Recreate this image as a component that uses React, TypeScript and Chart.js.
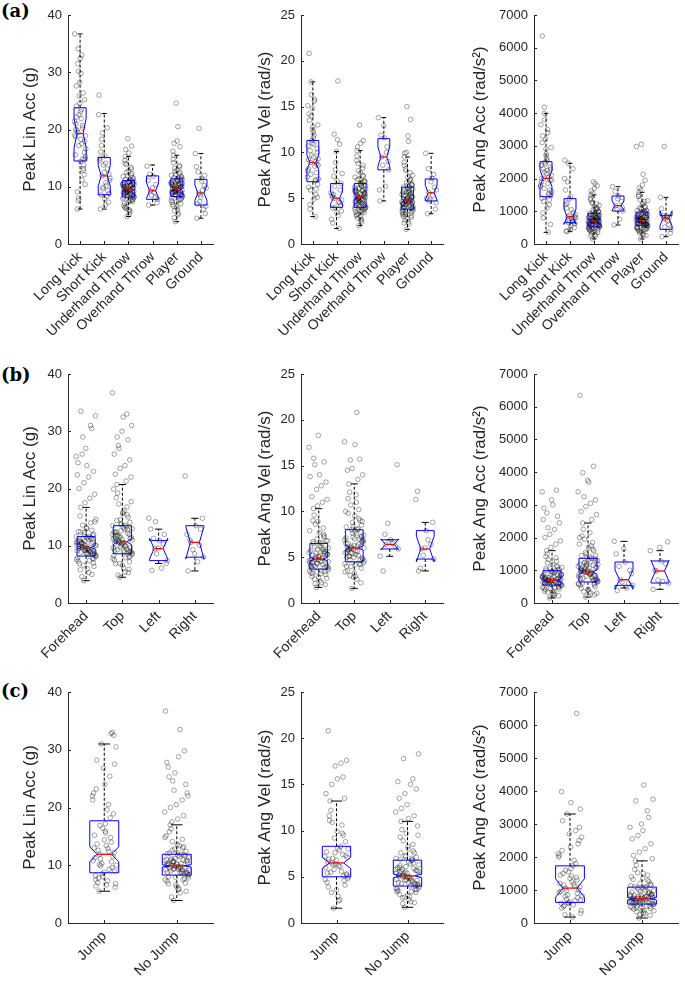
import React, { useEffect, useRef } from "react";
import { Chart, registerables } from "chart.js";

Chart.register(...registerables);

// ---------------- DATA ----------------
const activityCats = ["Long Kick", "Short Kick", "Underhand Throw", "Overhand Throw", "Player", "Ground"];
const locationCats = ["Forehead", "Top", "Left", "Right"];
const jumpCats = ["Jump", "No Jump"];

const yTitles = ["Peak Lin Acc (g)", "Peak Ang Vel (rad/s)", "Peak Ang Acc (rad/s\u00B2)"];
const yMaxes = [40, 25, 7000];
const ySteps = [10, 5, 1000];
const rowLabels = ["(a)", "(b)", "(c)"];

// box stats per category: [whiskerLo, q1, notchLo, median, notchHi, q3, whiskerHi]
const activityLinBox = [
  [6.1, 14.5, 16.8, 19.3, 21.9, 23.8, 36.7],
  [6.1, 8.6, 10.1, 11.9, 13.7, 15.1, 22.8],
  [4.8, 8.2, 9.3, 9.7, 10.1, 11.1, 15.3],
  [6.8, 7.8, 8.0, 9.3, 10.7, 11.9, 13.8],
  [3.9, 8.3, 9.3, 9.7, 10.1, 11.4, 15.5],
  [4.5, 6.8, 7.6, 8.9, 10.3, 11.3, 15.8],
];
const activityVelBox = [
  [3.0, 6.8, 8.1, 8.9, 9.7, 11.3, 17.7],
  [1.7, 4.0, 4.4, 5.0, 5.7, 6.6, 10.1],
  [2.0, 4.0, 4.95, 5.2, 5.45, 6.6, 10.2],
  [4.7, 8.1, 8.5, 9.5, 10.6, 11.5, 13.8],
  [1.6, 3.8, 4.45, 4.7, 4.95, 6.2, 9.5],
  [3.3, 4.7, 4.8, 5.6, 6.4, 7.1, 9.9],
];
const activityAccBox = [
  [357, 1447, 1750, 2007, 2260, 2517, 3994],
  [377, 652, 600, 836, 1070, 1386, 2466],
  [153, 530, 650, 703, 760, 937, 1498],
  [581, 1009, 1030, 1172, 1320, 1467, 1752],
  [153, 571, 650, 713, 780, 978, 1579],
  [224, 448, 560, 785, 1010, 866, 1426],
];
const locationLinBox = [
  [3.9, 8.2, 9.4, 9.7, 10.0, 11.6, 16.7],
  [4.5, 8.6, 10.2, 10.7, 11.2, 13.5, 20.7],
  [6.9, 7.4, 7.7, 9.5, 11.3, 10.9, 12.9],
  [5.6, 8.0, 7.7, 10.6, 13.3, 13.5, 14.8],
];
const locationVelBox = [
  [1.7, 3.7, 4.6, 4.8, 5.0, 6.5, 10.3],
  [1.6, 4.5, 5.75, 6.0, 6.25, 8.0, 13.0],
  [5.1, 5.9, 5.8, 6.4, 7.0, 6.9, 6.9],
  [3.5, 4.8, 4.5, 5.9, 7.3, 7.9, 8.8],
];
const locationAccBox = [
  [153, 550, 660, 693, 730, 988, 1600],
  [183, 642, 880, 948, 1010, 1365, 2445],
  [458, 540, 420, 713, 1006, 1253, 1885],
  [418, 611, 656, 978, 1300, 1284, 1600],
];
const jumpLinBox = [
  [5.5, 8.7, 10.6, 11.9, 13.2, 17.7, 31.0],
  [3.9, 8.3, 9.7, 9.9, 10.1, 11.9, 17.0],
];
const jumpVelBox = [
  [1.6, 5.0, 5.9, 6.5, 7.1, 8.3, 13.2],
  [1.7, 4.0, 4.9, 5.1, 5.3, 6.8, 11.0],
];
const jumpAccBox = [
  [181, 624, 780, 1058, 1340, 1732, 3303],
  [151, 574, 700, 735, 770, 1088, 1883],
];

// individual impact values (read approximately from the scatter clouds)
const activityLinPts = [
  [19.5, 14.8, 23.1, 27.6, 12.9, 17.2, 21.4, 33.0, 9.1, 16.0, 24.6, 18.7, 20.3, 7.6, 15.2, 29.8, 22.2, 13.8, 25.9, 19.0, 11.2, 31.5, 17.9, 14.4, 21.0, 26.4, 8.0, 16.6, 23.5, 19.9, 12.1, 28.3, 15.6, 20.7, 34.1, 10.4, 18.3, 24.1, 13.2, 22.6, 36.7, 17.5, 6.1, 25.2, 32.4, 20.0, 14.9, 30.2, 18.9, 21.9],
  [11.9, 8.8, 15.4, 6.1, 13.1, 9.9, 22.6, 10.7, 17.2, 7.3, 12.5, 14.6, 8.3, 19.4, 11.1, 6.8, 16.1, 9.3, 13.8, 26.0, 10.2, 18.3, 12.2, 7.9, 15.0, 20.3, 9.6, 11.5, 14.1, 8.6],
  [9.6, 8.4, 10.9, 7.1, 12.3, 9.2, 10.4, 5.6, 8.9, 11.6, 9.9, 6.7, 13.4, 10.1, 8.1, 9.4, 14.6, 7.7, 10.7, 9.0, 11.2, 6.2, 8.6, 12.8, 9.7, 10.3, 4.8, 8.3, 11.0, 15.3, 7.4, 9.5, 10.6, 8.8, 13.9, 9.8, 5.2, 10.0, 8.5, 11.9, 7.9, 9.3, 16.5, 10.5, 6.0, 8.7, 12.0, 9.1, 10.8, 7.5, 14.1, 9.6, 18.4, 8.2, 10.2, 6.5, 11.4, 15.9, 9.0, 17.1,
    9.4, 10.5, 8.6, 11.3, 9.9, 7.3, 10.0, 8.8, 12.5, 9.2, 10.7, 6.4, 9.7, 8.3, 11.8, 10.2, 9.0, 7.8, 10.9, 9.5, 13.1, 8.5, 10.4, 5.9, 9.8, 11.1, 8.9, 10.1, 7.6, 9.3],
  [9.3, 7.8, 11.8, 6.8, 10.4, 8.5, 13.6, 9.0, 12.2, 7.2, 9.8, 11.1, 8.1],
  [9.8, 8.5, 11.2, 6.9, 12.6, 9.3, 10.6, 5.4, 9.0, 11.8, 10.0, 7.3, 13.7, 10.3, 8.2, 9.5, 14.8, 7.8, 10.9, 9.1, 11.5, 4.6, 8.7, 12.9, 9.7, 10.4, 3.9, 8.4, 11.0, 15.5, 7.0, 9.6, 10.7, 8.9, 13.2, 10.1, 6.0, 16.2, 8.6, 12.1, 7.6, 9.4, 17.6, 10.5, 6.4, 8.8, 12.3, 9.2, 11.3, 20.5, 14.2, 9.9, 24.6, 8.1, 10.2, 5.8, 11.7, 18.0, 9.0, 17.0,
    9.6, 10.8, 8.7, 11.6, 10.0, 7.4, 10.3, 9.0, 12.7, 9.4, 11.1, 6.6, 9.9, 8.5, 12.0, 10.5, 9.2, 7.9, 11.2, 9.7, 13.5, 8.6, 10.6, 5.1, 10.1, 11.4, 9.1, 10.4, 7.7, 9.5],
  [8.9, 6.6, 11.5, 4.5, 10.2, 7.4, 15.8, 9.4, 12.6, 5.3, 8.2, 13.5, 6.1, 20.2, 9.8, 11.0, 7.0, 12.0, 8.6],
];
const activityVelPts = [
  [8.9, 6.5, 11.6, 14.2, 5.4, 9.7, 7.3, 15.6, 3.8, 10.4, 12.8, 8.2, 6.9, 17.7, 9.3, 4.9, 13.5, 7.8, 11.0, 15.1, 8.5, 5.9, 10.0, 12.2, 6.2, 9.0, 16.3, 7.1, 11.9, 4.3, 8.7, 14.8, 10.7, 3.0, 7.6, 13.0, 9.5, 20.8, 6.0, 11.3, 8.0, 15.8, 10.2, 5.1, 12.5, 9.2, 7.0, 14.0, 8.6, 10.9],
  [5.0, 3.6, 6.9, 2.3, 4.5, 8.1, 5.6, 3.1, 7.4, 4.2, 10.1, 5.3, 1.7, 6.3, 4.8, 11.4, 3.9, 5.9, 8.9, 2.7, 4.6, 12.0, 6.6, 3.4, 5.1, 10.9, 4.0, 7.7, 17.8, 5.4],
  [5.2, 4.1, 6.5, 3.2, 7.4, 4.7, 5.8, 2.4, 4.4, 6.9, 5.5, 3.5, 8.3, 5.0, 3.9, 4.9, 9.1, 3.7, 6.1, 4.6, 6.7, 2.8, 4.3, 7.8, 5.3, 5.9, 2.0, 4.0, 6.3, 10.2, 3.4, 5.1, 6.0, 4.5, 8.8, 5.4, 2.6, 5.7, 4.2, 7.1, 3.8, 4.8, 10.6, 5.6, 3.0, 4.2, 7.5, 5.0, 6.4, 3.6, 9.6, 5.2, 13.0, 4.0, 5.8, 3.3, 6.8, 11.0, 4.7, 11.3,
    5.0, 6.2, 4.4, 7.0, 5.5, 3.6, 5.9, 4.7, 8.0, 5.1, 6.4, 3.1, 5.3, 4.1, 7.3, 5.8, 4.9, 3.9, 6.6, 5.2, 8.6, 4.3, 6.0, 2.7, 5.4, 6.8, 4.6, 5.7, 3.5, 4.8],
  [9.5, 8.1, 11.6, 4.7, 10.6, 8.6, 13.8, 6.3, 11.9, 9.0, 12.9, 5.9, 10.0],
  [4.7, 3.9, 6.1, 3.0, 7.0, 4.3, 5.4, 2.2, 4.1, 6.5, 5.0, 3.3, 7.8, 4.8, 3.6, 4.5, 8.6, 3.4, 5.7, 4.4, 6.3, 2.6, 4.0, 7.3, 4.9, 5.5, 1.6, 3.8, 5.9, 9.5, 3.1, 4.6, 5.6, 4.2, 8.2, 5.1, 2.4, 5.3, 3.9, 6.7, 3.5, 4.5, 9.9, 5.2, 2.8, 4.0, 7.1, 4.7, 6.0, 11.2, 8.9, 4.8, 15.0, 3.7, 5.8, 3.2, 6.4, 11.8, 4.4, 13.6, 10.0,
    4.6, 5.7, 4.0, 6.5, 5.0, 3.2, 5.4, 4.3, 7.5, 4.8, 5.9, 2.9, 4.9, 3.9, 6.9, 5.3, 4.5, 3.6, 6.2, 4.7, 8.0, 4.1, 5.6, 2.3, 5.1, 6.4, 4.4, 5.2, 3.4, 4.6],
  [5.6, 4.5, 7.2, 3.3, 6.2, 4.9, 9.9, 5.3, 8.2, 3.8, 6.8, 5.0, 7.6, 4.7, 5.9],
];
const activityAccPts = [
  [2010, 1480, 2600, 3100, 1200, 2200, 1750, 3500, 800, 2350, 2900, 1900, 1550, 3994, 2100, 1100, 3300, 1650, 2450, 3650, 1850, 1300, 2280, 2750, 1400, 2050, 3800, 1600, 2550, 950, 1950, 3200, 2400, 357, 1700, 2950, 2150, 6360, 1350, 2500, 1800, 3400, 2300, 600, 2700, 2000, 1500, 4180, 1950, 2250],
  [836, 620, 1450, 400, 950, 720, 2000, 780, 1250, 500, 880, 1650, 680, 2466, 900, 560, 1100, 760, 1380, 2560, 700, 1900, 820, 460, 1200, 2300, 650, 800, 1050, 377],
  [700, 560, 920, 410, 1080, 640, 800, 260, 600, 1000, 740, 450, 1230, 760, 520, 680, 1350, 490, 880, 630, 950, 320, 580, 1150, 710, 820, 153, 540, 900, 1498, 430, 690, 840, 610, 1280, 720, 290, 780, 570, 1040, 480, 660, 1620, 790, 360, 590, 1100, 700, 870, 1850, 1400, 730, 1900, 510, 810, 380, 960, 1700, 650, 1780, 1550,
    690, 860, 560, 1010, 740, 430, 810, 620, 1180, 700, 900, 350, 720, 540, 1060, 790, 670, 480, 940, 730, 1250, 580, 830, 250, 750, 980, 640, 770, 460, 680],
  [1172, 1009, 1467, 581, 1300, 1050, 1752, 760, 1600, 1120, 1380],
  [710, 580, 960, 420, 1120, 650, 820, 280, 620, 1030, 760, 470, 1300, 780, 540, 690, 1450, 500, 900, 640, 990, 340, 600, 1200, 730, 850, 153, 560, 930, 1579, 440, 700, 870, 630, 1350, 740, 300, 800, 590, 1080, 490, 670, 1720, 810, 380, 610, 1150, 720, 890, 2130, 1500, 750, 3050, 530, 830, 400, 1000, 1800, 680, 1950, 1650, 2980,
    700, 880, 590, 1060, 760, 450, 830, 650, 1240, 720, 940, 360, 740, 570, 1100, 810, 690, 500, 980, 750, 1320, 610, 860, 260, 770, 1020, 660, 790, 480, 710],
  [785, 448, 866, 224, 820, 520, 1426, 700, 860, 330, 760, 1080, 600, 2980],
];
const locationLinPts = [
  [9.7, 8.4, 11.4, 6.9, 12.7, 9.2, 10.6, 5.3, 8.9, 12.0, 10.0, 7.3, 14.0, 10.3, 8.1, 9.5, 15.2, 7.8, 10.9, 9.1, 11.6, 4.6, 8.6, 13.1, 9.8, 10.4, 3.9, 8.3, 11.1, 16.7, 7.0, 9.6, 10.7, 8.8, 13.6, 10.1, 6.0, 9.9, 8.5, 12.3, 7.6, 9.3, 10.5, 6.4, 8.7, 12.5, 9.0, 11.3, 14.6, 9.4, 5.8, 11.8, 17.5, 22.4, 18.3, 26.0, 19.0, 24.0, 20.0, 30.5, 21.0, 25.6, 22.0, 33.5, 23.0, 27.0, 24.5, 31.0, 29.0, 32.7,
    9.6, 10.9, 8.7, 11.9, 10.1, 7.4, 10.4, 9.0, 13.0, 9.5, 11.2, 6.6, 10.0, 8.5, 12.4, 10.6, 9.2, 7.9, 11.4, 9.8, 14.2, 8.6, 10.7, 5.0, 10.2, 11.6, 9.1, 10.5, 7.7, 9.4],
  [10.7, 8.9, 13.2, 6.9, 15.0, 9.8, 12.0, 5.4, 9.3, 14.1, 11.1, 7.5, 16.8, 11.6, 8.5, 10.2, 18.4, 8.0, 12.6, 9.6, 13.6, 4.9, 9.0, 15.8, 10.9, 12.2, 4.5, 8.7, 12.9, 20.7, 7.2, 10.4, 12.4, 9.4, 17.3, 11.4, 6.1, 11.9, 8.8, 14.6, 7.8, 10.0, 19.2, 11.3, 6.6, 9.2, 15.4, 10.6, 13.0, 16.1, 10.8, 5.9, 13.9, 19.9, 21.3, 27.5, 22.0, 32.5, 22.5, 28.5, 23.5, 36.7, 24.0, 29.0, 25.0, 30.0, 26.0, 33.0, 27.0, 31.0,
    10.6, 12.4, 9.2, 13.7, 11.2, 7.9, 11.8, 9.7, 15.6, 10.4, 12.8, 6.9, 11.0, 8.9, 14.4, 12.0, 10.1, 8.3, 13.3, 10.8, 17.7, 9.1, 12.3, 5.3, 11.5, 13.5, 9.9, 11.7, 8.1, 10.5],
  [9.5, 7.4, 10.9, 5.7, 12.0, 8.6, 14.8, 6.1, 11.3, 6.9, 9.6, 12.9, 10.3, 14.2],
  [10.6, 8.0, 13.5, 5.6, 12.9, 9.3, 22.2, 7.2, 11.0, 14.8, 8.6, 12.0, 10.1],
];
const locationVelPts = [
  [4.8, 3.9, 6.3, 2.9, 7.3, 4.3, 5.5, 2.2, 4.1, 6.8, 5.1, 3.3, 8.2, 5.0, 3.6, 4.6, 9.0, 3.4, 5.8, 4.4, 6.5, 2.6, 4.0, 7.7, 4.9, 5.6, 1.7, 3.8, 6.1, 10.3, 3.1, 4.7, 5.7, 4.2, 8.6, 5.3, 2.4, 5.2, 3.9, 7.0, 3.5, 4.5, 9.6, 5.4, 2.8, 4.0, 7.5, 4.8, 6.0, 3.2, 6.7, 2.0, 10.6, 13.8, 11.0, 15.1, 11.3, 14.0, 11.6, 15.4, 12.4, 17.0, 12.8, 15.8, 13.2, 18.3,
    4.7, 5.9, 4.0, 6.8, 5.2, 3.2, 5.6, 4.3, 7.9, 4.9, 6.2, 2.7, 5.0, 3.8, 7.2, 5.5, 4.5, 3.5, 6.5, 4.8, 8.9, 4.1, 5.8, 2.1, 5.3, 6.6, 4.4, 5.4, 3.4, 4.6],
  [6.0, 4.8, 7.8, 3.5, 9.0, 5.4, 6.9, 2.6, 5.1, 8.5, 6.3, 4.0, 10.2, 6.2, 4.4, 5.7, 11.4, 4.2, 7.2, 5.5, 8.0, 3.0, 4.9, 9.5, 6.1, 7.0, 1.6, 4.6, 7.6, 13.0, 3.8, 5.9, 7.1, 5.2, 10.7, 6.6, 2.9, 6.5, 4.7, 8.8, 4.3, 5.6, 12.1, 6.7, 3.3, 5.0, 9.2, 6.0, 7.4, 11.8, 5.8, 2.2, 8.3, 10.0, 13.5, 15.6, 14.0, 17.3, 14.5, 15.7, 14.7, 17.6, 20.8,
    5.9, 7.3, 5.0, 8.3, 6.4, 4.0, 6.8, 5.3, 9.8, 6.1, 7.6, 3.4, 6.2, 4.7, 8.9, 7.0, 5.6, 4.3, 8.0, 6.0, 11.0, 5.1, 7.2, 2.8, 6.5, 8.1, 5.5, 6.9, 4.2, 5.8],
  [6.4, 5.9, 6.9, 3.5, 6.2, 8.7, 5.1, 6.5, 7.5, 15.1],
  [5.9, 4.8, 7.9, 3.5, 6.4, 5.2, 11.3, 6.9, 3.8, 8.8, 6.0, 12.2],
];
const locationAccPts = [
  [690, 570, 950, 410, 1100, 640, 810, 270, 610, 1020, 750, 460, 1280, 770, 530, 680, 1420, 490, 890, 630, 980, 330, 590, 1180, 720, 840, 153, 550, 920, 1600, 430, 700, 860, 620, 1330, 730, 290, 790, 580, 1060, 480, 660, 1500, 800, 370, 600, 1130, 710, 880, 350, 1000, 220, 1700, 2550, 1800, 2300, 1900, 3000, 2000, 2650, 2100, 3400, 2250, 2750, 2450, 3150, 2900, 3450,
    680, 870, 570, 1050, 750, 440, 820, 630, 1230, 710, 930, 360, 730, 560, 1090, 800, 670, 490, 970, 740, 1380, 600, 850, 240, 760, 1010, 650, 780, 470, 700],
  [950, 680, 1330, 450, 1600, 820, 1120, 300, 760, 1450, 1000, 540, 1850, 1050, 640, 900, 2050, 600, 1200, 860, 1365, 350, 720, 1700, 970, 1150, 183, 660, 1260, 2445, 500, 930, 1180, 800, 1950, 1080, 330, 1020, 700, 1500, 580, 880, 2250, 1100, 400, 740, 1650, 940, 1300, 2150, 990, 250, 1400, 1800, 2550, 3250, 2700, 3700, 2800, 4180, 2950, 3400, 3050, 3980, 3150, 3750, 6350,
    930, 1240, 720, 1420, 1050, 560, 1130, 800, 1750, 980, 1300, 420, 1000, 690, 1550, 1180, 880, 610, 1360, 960, 2000, 760, 1220, 300, 1070, 1450, 850, 1160, 590, 940],
  [713, 540, 1253, 380, 1000, 640, 1885, 458, 1120, 900, 1650, 1500, 600],
  [978, 611, 1284, 418, 1200, 700, 1600, 660, 1000, 1870, 1700],
];
const jumpLinPts = [
  [11.9, 9.0, 17.2, 6.4, 14.0, 10.3, 22.0, 7.3, 12.6, 18.9, 8.8, 15.2, 25.4, 11.1, 6.8, 13.4, 28.2, 9.6, 16.4, 10.8, 20.5, 5.5, 12.2, 24.0, 8.2, 14.8, 31.0, 10.0, 19.6, 7.0, 11.5, 26.8, 13.0, 9.3, 16.9, 6.2, 15.6, 23.2, 10.6, 8.5, 21.3, 12.9, 7.8, 32.5, 14.4, 11.3, 18.2, 9.9, 30.5, 6.6, 13.7, 33.0, 8.0, 22.5, 12.4, 10.1, 27.5, 15.9, 7.5, 32.8],
  [9.9, 8.5, 11.7, 6.8, 13.2, 9.4, 10.8, 5.2, 9.0, 12.4, 10.2, 7.2, 14.5, 10.6, 8.2, 9.7, 15.8, 7.7, 11.2, 9.2, 11.9, 4.5, 8.7, 13.6, 10.0, 10.9, 3.9, 8.4, 11.5, 17.0, 6.9, 9.8, 11.0, 8.9, 14.1, 10.4, 5.8, 10.1, 8.6, 12.8, 7.5, 9.5, 16.3, 10.7, 6.3, 8.8, 13.0, 9.3, 11.4, 6.0, 12.1, 9.6, 7.9, 15.1, 10.3, 17.5, 22.5, 18.0, 27.0, 18.6, 23.0, 19.2, 33.5, 20.0, 24.0, 20.5, 27.8, 21.3, 24.6, 22.0, 28.8, 25.3, 29.8, 26.0, 36.7,
    9.8, 11.1, 8.8, 12.2, 10.3, 7.5, 10.6, 9.1, 13.4, 9.6, 11.6, 6.6, 10.0, 8.6, 12.6, 10.8, 9.3, 8.0, 11.8, 9.9, 14.8, 8.7, 10.9, 5.5, 10.2, 12.0, 9.2, 10.7, 7.8, 9.5],
];
const jumpVelPts = [
  [6.5, 5.2, 8.1, 3.9, 9.5, 5.8, 7.2, 2.5, 5.5, 8.8, 6.8, 4.4, 10.6, 7.0, 4.8, 6.2, 11.6, 4.6, 7.6, 6.0, 8.3, 3.3, 5.3, 9.9, 6.6, 7.4, 1.6, 5.0, 7.9, 13.2, 4.1, 6.4, 7.7, 5.6, 10.9, 7.1, 2.9, 6.9, 5.1, 9.2, 4.7, 6.1, 12.2, 7.3, 3.6, 5.4, 9.7, 6.3, 8.0, 2.4, 11.1, 13.5, 17.0, 14.0, 17.3, 15.0, 17.6, 15.6, 20.8, 15.8],
  [5.1, 4.2, 6.6, 3.1, 7.6, 4.6, 5.8, 2.3, 4.3, 7.1, 5.4, 3.5, 8.5, 5.3, 3.8, 4.9, 9.3, 3.6, 6.1, 4.7, 6.8, 2.7, 4.1, 8.0, 5.2, 5.9, 1.7, 4.0, 6.4, 11.0, 3.3, 5.0, 6.0, 4.5, 8.9, 5.6, 2.5, 5.5, 4.2, 7.3, 3.7, 4.8, 10.1, 5.7, 3.0, 4.4, 7.8, 5.1, 6.3, 2.9, 6.9, 4.0, 9.7, 3.4, 7.0, 2.1, 10.5, 11.3, 13.5, 11.6, 14.0, 12.0, 15.0, 12.4, 14.5, 12.8, 15.3, 15.6, 17.8, 18.3,
    5.0, 6.2, 4.3, 7.2, 5.4, 3.4, 5.8, 4.6, 8.3, 5.1, 6.5, 2.8, 5.2, 4.0, 7.6, 5.7, 4.7, 3.7, 6.8, 5.0, 9.5, 4.4, 6.0, 2.2, 5.5, 7.0, 4.6, 5.6, 3.6, 4.9],
];
const jumpAccPts = [
  [1058, 700, 1650, 450, 1300, 850, 2100, 550, 1150, 2500, 640, 1450, 2800, 980, 380, 1250, 3100, 760, 1550, 920, 1900, 250, 1100, 2300, 600, 1380, 3303, 820, 1732, 500, 1000, 2700, 1200, 680, 1600, 300, 1420, 2200, 900, 620, 2000, 1180, 530, 2900, 1350, 960, 1800, 720, 2600, 181, 1500, 2400, 590, 2050, 1120, 800, 3450, 3650, 3980, 6350],
  [735, 590, 1060, 420, 1250, 670, 860, 280, 630, 1150, 790, 470, 1450, 810, 550, 720, 1620, 500, 960, 650, 1088, 340, 600, 1350, 760, 900, 151, 574, 1000, 1883, 440, 740, 930, 640, 1520, 780, 300, 840, 610, 1200, 490, 700, 1750, 870, 380, 620, 1300, 750, 980, 360, 1100, 230, 680, 1400, 820, 520, 1950, 2800, 2050, 3200, 2150, 2900, 2250, 3700, 2400, 3000, 2550, 3400, 2650, 3750, 4180,
    720, 940, 600, 1130, 800, 460, 870, 660, 1320, 750, 1010, 370, 770, 590, 1180, 850, 700, 510, 1060, 780, 1500, 630, 910, 250, 810, 1090, 680, 830, 490, 740],
];

// ---------------- LAYOUT / STYLE ----------------
const PAGE_W = 685;
const PAGE_H = 989;
const SANS = "'Liberation Sans', Arial, Helvetica, sans-serif";
const TEXT = "#262626";
const AXIS = "#262626";
const TITLE_SIZE = 17;

const ROWS = [
  { top: 15, bottom: 244, boxW: 0.5, jitter: 0.24, labelTop: 1 },
  { top: 374, bottom: 603, boxW: 0.5, jitter: 0.28, labelTop: 365 },
  { top: 692, bottom: 923, boxW: 0.4, jitter: 0.17, labelTop: 681 },
];
const COLS = [
  { left: 68, right: 213, titleX: 30 },
  { left: 301, right: 443, titleX: 265 },
  { left: 534, right: 678, titleX: 480 },
];

const panelData = [
  { cats: activityCats, pts: [activityLinPts, activityVelPts, activityAccPts], box: [activityLinBox, activityVelBox, activityAccBox] },
  { cats: locationCats, pts: [locationLinPts, locationVelPts, locationAccPts], box: [locationLinBox, locationVelBox, locationAccBox] },
  { cats: jumpCats, pts: [jumpLinPts, jumpVelPts, jumpAccPts], box: [jumpLinBox, jumpVelBox, jumpAccBox] },
];

function jit(i: number) {
  return (((i * 0.6180339887 + 0.31) % 1) * 2 - 1);
}

function buildConfig(r: number, c: number): any {
  const row = ROWS[r];
  const col = COLS[c];
  const cats = panelData[r].cats;
  const ptsArr = panelData[r].pts[c];
  const boxArr = panelData[r].box[c];
  const n = cats.length;
  const points: { x: number; y: number }[] = [];
  ptsArr.forEach((arr, ci) =>
    arr.forEach((v, i) => points.push({ x: ci + jit(i) * row.jitter, y: v }))
  );
  const lh = TITLE_SIZE * 1.2;
  const yW = col.left - (col.titleX - lh / 2);

  const boxPlugin = {
    id: "notchBox" + r + c,
    afterDatasetsDraw(chart: any) {
      const { ctx, scales, chartArea } = chart;
      const x = scales.x;
      const y = scales.y;
      const Y = (v: number) => y.getPixelForValue(v);
      const seg = (x1: number, y1: number, x2: number, y2: number) => {
        ctx.beginPath();
        ctx.moveTo(x1, y1);
        ctx.lineTo(x2, y2);
        ctx.stroke();
      };
      ctx.save();
      boxArr.forEach((b, i) => {
        const [lo, q1, nlo, med, nhi, q3, hi] = b;
        const cx = x.getPixelForValue(i);
        const hw = (x.getPixelForValue(i + row.boxW / 2) - x.getPixelForValue(i - row.boxW / 2)) / 2;
        const l = cx - hw;
        const rr = cx + hw;
        const dw = hw / 2;
        const cw = hw * 0.4;
        ctx.lineWidth = 1;
        ctx.strokeStyle = "#000";
        ctx.setLineDash([3, 2]);
        seg(cx, Y(q3), cx, Y(hi));
        seg(cx, Y(q1), cx, Y(lo));
        ctx.setLineDash([]);
        seg(cx - cw, Y(hi), cx + cw, Y(hi));
        seg(cx - cw, Y(lo), cx + cw, Y(lo));
        ctx.strokeStyle = "rgb(0,0,255)";
        ctx.beginPath();
        ctx.moveTo(l, Y(q1));
        ctx.lineTo(l, Y(nlo));
        ctx.lineTo(l + dw, Y(med));
        ctx.lineTo(l, Y(nhi));
        ctx.lineTo(l, Y(q3));
        ctx.lineTo(rr, Y(q3));
        ctx.lineTo(rr, Y(nhi));
        ctx.lineTo(rr - dw, Y(med));
        ctx.lineTo(rr, Y(nlo));
        ctx.lineTo(rr, Y(q1));
        ctx.closePath();
        ctx.stroke();
        ctx.strokeStyle = "rgb(255,0,0)";
        ctx.lineWidth = 1.3;
        seg(l + dw, Y(med), rr - dw, Y(med));
      });
      // inward tick marks
      ctx.strokeStyle = AXIS;
      ctx.lineWidth = 1;
      y.ticks.forEach((t: any) => {
        const py = Math.round(y.getPixelForValue(t.value)) + 0.5;
        seg(chartArea.left, py, chartArea.left + 3, py);
      });
      x.ticks.forEach((t: any) => {
        const px = Math.round(x.getPixelForValue(t.value)) + 0.5;
        seg(px, chartArea.bottom, px, chartArea.bottom - 3);
      });
      ctx.restore();
    },
  };

  return {
    type: "scatter",
    data: {
      datasets: [
        {
          data: points,
          pointRadius: 2.3,
          pointHoverRadius: 2.3,
          pointBorderWidth: 0.8,
          pointBackgroundColor: "rgba(0,0,0,0)",
          pointBorderColor: "rgba(0,0,0,0.45)",
          showLine: false,
        },
      ],
    },
    options: {
      responsive: false,
      animation: false,
      devicePixelRatio: 1,
      events: [],
      layout: { padding: { left: col.left - yW, top: row.top, right: PAGE_W - col.right, bottom: 0 } },
      plugins: { legend: { display: false }, tooltip: { enabled: false } },
      scales: {
        x: {
          type: "linear",
          min: -0.5,
          max: n - 0.5,
          afterBuildTicks: (s: any) => {
            s.ticks = cats.map((_, i) => ({ value: i }));
          },
          afterFit: (s: any) => {
            s.height = PAGE_H - row.bottom;
          },
          ticks: {
            autoSkip: false,
            minRotation: 45,
            maxRotation: 45,
            padding: 5,
            color: TEXT,
            font: { family: SANS, size: 14 },
            callback: (v: number) => cats[Math.round(v)] ?? "",
          },
          grid: { display: false, drawTicks: false },
          border: { display: true, color: AXIS, width: 1 },
        },
        y: {
          min: 0,
          max: yMaxes[c],
          afterFit: (s: any) => {
            s.width = yW;
          },
          ticks: {
            stepSize: ySteps[c],
            padding: 6,
            color: TEXT,
            font: { family: SANS, size: 13 },
            callback: (v: number) => String(v),
          },
          grid: { display: false, drawTicks: false },
          border: { display: true, color: AXIS, width: 1 },
          title: {
            display: true,
            text: yTitles[c],
            color: TEXT,
            font: { family: SANS, size: TITLE_SIZE },
            padding: 0,
          },
        },
      },
    },
    plugins: [boxPlugin],
  };
}

function Panel({ r, c }: { r: number; c: number }) {
  const ref = useRef<HTMLCanvasElement | null>(null);
  useEffect(() => {
    if (!ref.current) return;
    const chart = new Chart(ref.current, buildConfig(r, c));
    return () => chart.destroy();
  }, [r, c]);
  return (
    <canvas
      ref={ref}
      width={PAGE_W}
      height={PAGE_H}
      style={{ position: "absolute", left: 0, top: 0, width: PAGE_W, height: PAGE_H }}
    />
  );
}

export default function App() {
  const panels: any[] = [];
  for (let r = 0; r < 3; r++) {
    for (let c = 0; c < 3; c++) {
      panels.push(<Panel key={r + "-" + c} r={r} c={c} />);
    }
  }
  return (
    <div style={{ position: "fixed", left: 0, top: 0, width: PAGE_W, height: PAGE_H, background: "#fff", overflow: "hidden" }}>
      {rowLabels.map((t, i) => (
        <div
          key={t}
          style={{
            position: "absolute",
            left: 1,
            top: ROWS[i].labelTop,
            fontFamily: "'DejaVu Serif', 'Liberation Serif', serif",
            fontWeight: "bold",
            fontSize: 18,
            lineHeight: "20px",
            color: "#000",
          }}
        >
          {t}
        </div>
      ))}
      {panels}
    </div>
  );
}
